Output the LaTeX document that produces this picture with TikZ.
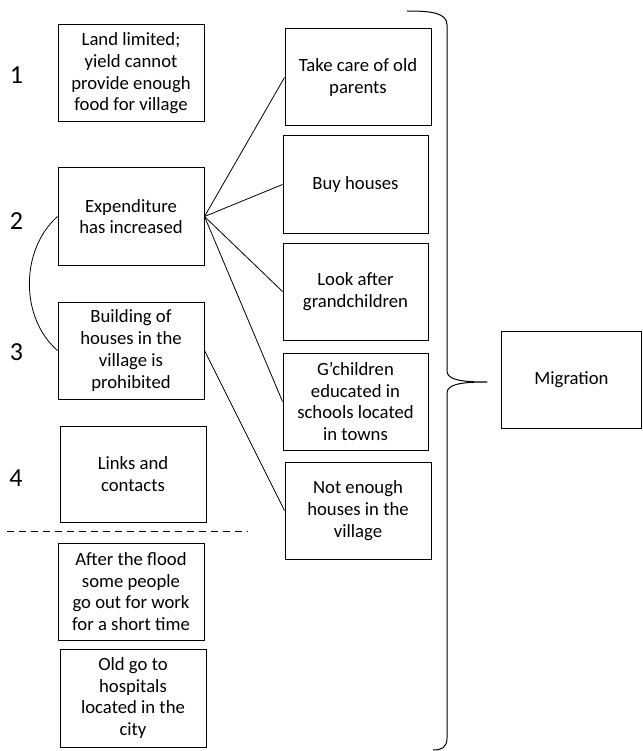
\documentclass[tikz,border=0pt]{standalone}
\usepackage{fontspec}
\setmainfont{Carlito}
\begin{document}
\begin{tikzpicture}[x=1pt,y=-1pt,
  box/.style={draw, line width=1pt, align=center, inner sep=0pt,
    font=\fontsize{18.7}{21.7}\selectfont,
    minimum width=146pt, minimum height=97pt},
  num/.style={font=\fontsize{26}{30}\selectfont, inner sep=0pt},
  link/.style={line width=0.8pt},
  sep/.style={line width=0.9pt, dash pattern=on 7pt off 5pt},
  bracket/.style={line width=1pt, line join=round}]
\useasboundingbox (0,0) rectangle (642,751);

% left column: causes
\node[box] (land)   at (131,73.5)  {Land limited;\\yield cannot\\provide enough\\food for village};
\node[box] (expend) at (131,216.5) {Expenditure\\has increased};
\node[box] (build)  at (131,350.5) {Building of\\houses in the\\village is\\prohibited};
\node[box, minimum height=96pt] (links) at (133,474) {Links and\\contacts};
\node[box] (flood)  at (131,591.5) {After the flood\\some people\\go out for work\\for a short time};
\node[box, minimum height=98pt] (hosp) at (133,698) {Old go to\\hospitals\\located in the\\city};

% numbering
\node[num] (n1) at (16.5,75.5) {1};
\node[num] (n2) at (16.5,221)  {2};
\node[num] (n3) at (16.5,352)  {3};
\node[num] (n4) at (16,478)    {4};

% middle column: consequences
\node[box] (care)  at (358,77.5) {Take care of old\\parents};
\node[box, minimum width=145pt] (buy)   at (355.5,184.5) {Buy houses};
\node[box, minimum width=145pt] (look)  at (355.5,291.5) {Look after\\grandchildren};
\node[box, minimum width=145pt] (school) at (355.5,401.5) {G’children\\educated in\\schools located\\in towns};
\node[box] (few)   at (358,510.5) {Not enough\\houses in the\\village};

% outcome
\node[box, minimum width=140pt] (mig) at (571.5,379.5) {Migration};

% connectors
\draw[link] (expend.east) -- (care.west);
\draw[link] (expend.east) -- (buy.west);
\draw[link] (expend.east) -- (look.west);
\draw[link] (expend.east) -- (school.west);
\draw[link] (build.east) -- (few.west);
\draw[link] (expend.west) .. controls (20,250) and (20,318) .. (build.west);

% separator
\coordinate (sepL) at (7,531);
\coordinate (sepR) at (248,531);
\draw[sep] (sepL) -- (sepR);

% curly bracket gathering the consequences
\coordinate (brTop) at (407,11);
\coordinate (brTip) at (487,382);
\coordinate (brBot) at (433,750);
\draw[bracket] (brTop) .. controls (432,11) and (447,13) .. (447,25)
  -- (447,371) .. controls (447,380) and (462,382) .. (brTip)
  .. controls (462,382) and (447,384) .. (447,393)
  -- (447,738) .. controls (447,748) and (441,750) .. (brBot);
\end{tikzpicture}
\end{document}
